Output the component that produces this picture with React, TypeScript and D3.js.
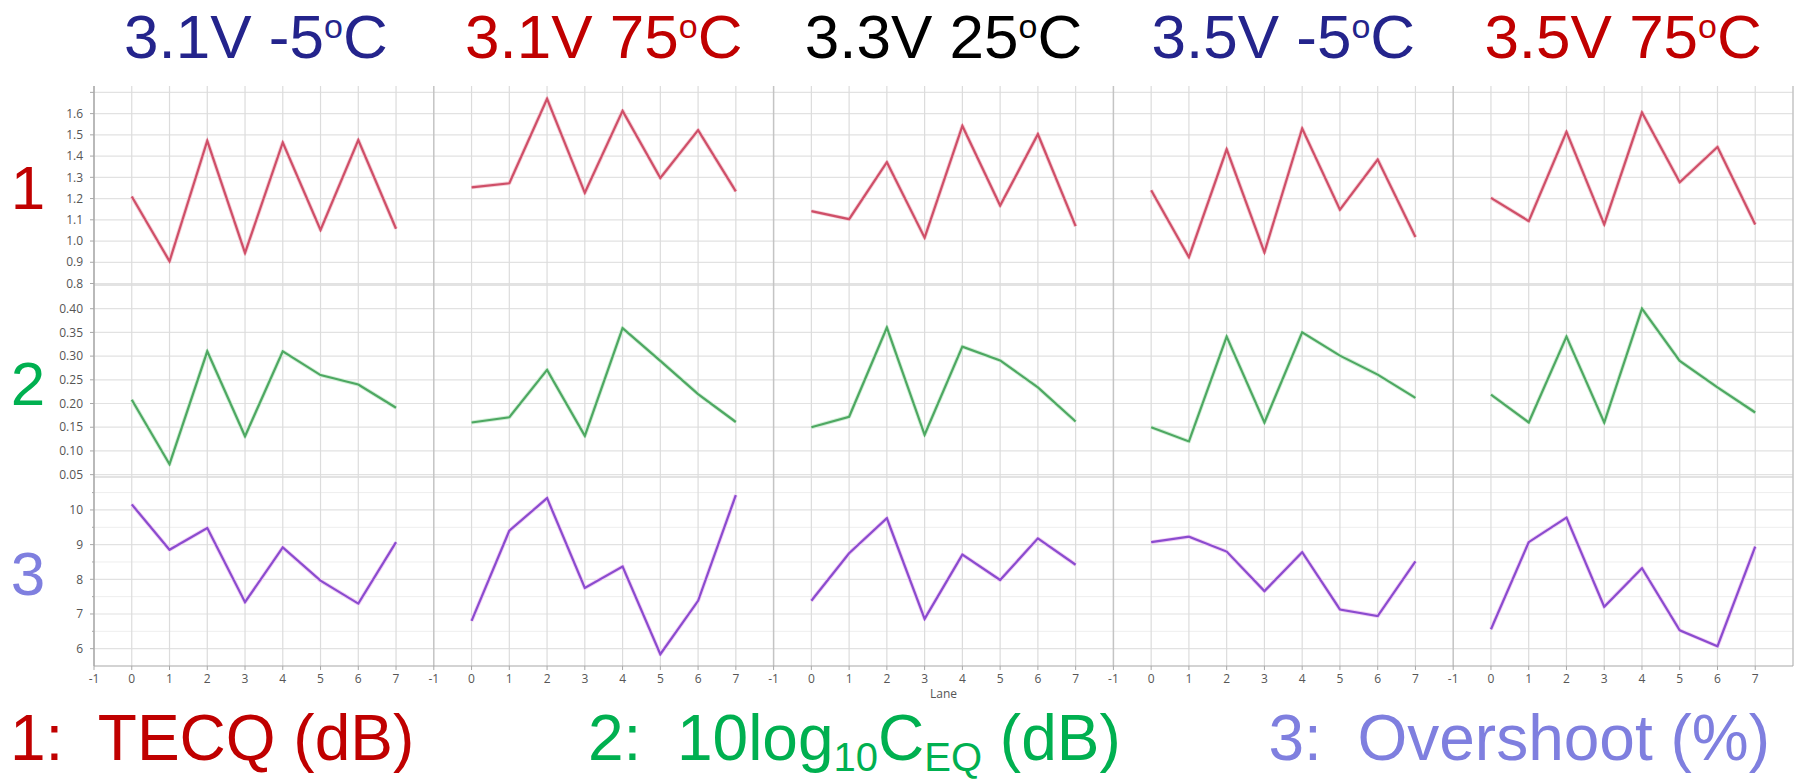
import React from "react";
import * as d3 from "d3";

// conditions (one panel each), lanes 0..7
const conditions = ["3.1V -5", "3.1V 75", "3.3V 25", "3.5V -5", "3.5V 75"];
const conditionColors = ["#24248c", "#c00000", "#000000", "#24248c", "#c00000"];
const lanes = [0, 1, 2, 3, 4, 5, 6, 7];
const laneTicks = [-1, 0, 1, 2, 3, 4, 5, 6, 7];

// 1: TECQ (dB)
const tecq = [
  [1.21, 0.905, 1.472, 0.944, 1.464, 1.052, 1.475, 1.058],
  [1.253, 1.272, 1.67, 1.227, 1.613, 1.297, 1.522, 1.234],
  [1.141, 1.103, 1.371, 1.016, 1.542, 1.167, 1.503, 1.07],
  [1.239, 0.924, 1.432, 0.947, 1.53, 1.148, 1.384, 1.019],
  [1.203, 1.094, 1.514, 1.078, 1.605, 1.277, 1.443, 1.078],
];
// 2: 10log10 CEQ (dB)
const ceq = [
  [0.208, 0.072, 0.31, 0.131, 0.31, 0.26, 0.24, 0.191],
  [0.16, 0.171, 0.271, 0.132, 0.359, 0.29, 0.22, 0.161],
  [0.15, 0.172, 0.36, 0.134, 0.32, 0.291, 0.234, 0.162],
  [0.15, 0.12, 0.341, 0.16, 0.35, 0.301, 0.261, 0.212],
  [0.219, 0.16, 0.341, 0.16, 0.4, 0.29, 0.234, 0.181],
];
// 3: Overshoot (%)
const overshoot = [
  [10.16, 8.85, 9.48, 7.34, 8.92, 7.96, 7.3, 9.07],
  [6.8, 9.4, 10.34, 7.75, 8.37, 5.84, 7.38, 10.43],
  [7.38, 8.75, 9.76, 6.86, 8.71, 7.98, 9.18, 8.42],
  [9.07, 9.23, 8.8, 7.66, 8.78, 7.13, 6.94, 8.52],
  [6.56, 9.07, 9.78, 7.21, 8.32, 6.53, 6.07, 8.94],
];

const tecqTicks = [0.8, 0.9, 1.0, 1.1, 1.2, 1.3, 1.4, 1.5, 1.6];
const tecqGrid = [...tecqTicks, 1.7];
const ceqTicks = [0.05, 0.1, 0.15, 0.2, 0.25, 0.3, 0.35, 0.4];
const overshootTicks = [6, 7, 8, 9, 10];
const overshootMinor = [6.5, 7.5, 8.5, 9.5, 10.5];

const W = 1802;
const H = 782;
const left = 94;
const right = 1793;
const top = 86;
const bottom = 666;
const panelW = (right - left) / conditions.length;

const tickFont = "'Open Sans', 'Noto Sans', sans-serif";
const bigFont = "'Liberation Sans', Arial, sans-serif";

const rows = [
  {
    key: "tecq",
    values: tecq,
    y: d3.scaleLinear().domain([0.793, 1.73]).range([285, top]),
    ticks: tecqTicks,
    grid: tecqGrid,
    minor: [] as number[],
    fmt: d3.format(".1f"),
    color: "#cf4f68",
    halo: "#f5d0d8",
    label: "1",
    labelColor: "#c00000",
  },
  {
    key: "ceq",
    values: ceq,
    y: d3.scaleLinear().domain([0.045, 0.45]).range([477, 285]),
    ticks: ceqTicks,
    grid: ceqTicks,
    minor: [] as number[],
    fmt: d3.format(".2f"),
    color: "#4ea862",
    halo: "#d3efd8",
    label: "2",
    labelColor: "#00b050",
  },
  {
    key: "overshoot",
    values: overshoot,
    y: d3.scaleLinear().domain([5.5, 10.95]).range([bottom, 477]),
    ticks: overshootTicks,
    grid: overshootTicks,
    minor: overshootMinor,
    fmt: d3.format("d"),
    color: "#8a4ccf",
    halo: "#f3cff5",
    label: "3",
    labelColor: "#7f7fdf",
  },
];

const App: React.FC = () => {
  const xScales = conditions.map((_, i) =>
    d3
      .scaleLinear()
      .domain([-1, 8])
      .range([left + i * panelW, left + (i + 1) * panelW])
  );

  return (
    <div style={{ position: "absolute", left: 0, top: 0 }}>
      <svg width={W} height={H} style={{ display: "block", background: "#fff" }}>
        {/* horizontal grid */}
        {rows.map((r) => (
          <g key={r.key + "-hgrid"}>
            {r.minor.map((v) => (
              <line key={"m" + v} x1={left} x2={right} y1={r.y(v)} y2={r.y(v)} stroke="#eeeeee" strokeWidth={1} />
            ))}
            {r.grid.map((v) => (
              <line key={v} x1={left} x2={right} y1={r.y(v)} y2={r.y(v)} stroke="#e2e2e2" strokeWidth={1.2} />
            ))}
          </g>
        ))}
        {/* row separators */}
        {[285, 477].map((y) => (
          <line key={y} x1={left} x2={right} y1={y} y2={y} stroke="#dadada" strokeWidth={1.3} />
        ))}

        {/* vertical grid */}
        {xScales.map((x, i) => (
          <g key={"vgrid" + i}>
            {laneTicks.map((t) => (
              <line
                key={t}
                x1={x(t)}
                x2={x(t)}
                y1={top}
                y2={bottom}
                stroke={t === -1 ? "#c4c4c4" : "#dcdcdc"}
                strokeWidth={t === -1 ? 1.5 : 1.2}
              />
            ))}
          </g>
        ))}
        <line x1={right} x2={right} y1={top} y2={bottom} stroke="#c4c4c4" strokeWidth={1.5} />

        {/* axes */}
        <line x1={left} x2={left} y1={top} y2={bottom} stroke="#a8a8a8" strokeWidth={1.2} />
        <line x1={left} x2={right} y1={bottom} y2={bottom} stroke="#a8a8a8" strokeWidth={1.2} />

        {/* y tick labels */}
        {rows.map((r) => (
          <g key={r.key + "-yaxis"}>
            {r.grid.map((v) => (
              <line key={"t" + v} x1={left - 4} x2={left} y1={r.y(v)} y2={r.y(v)} stroke="#a8a8a8" />
            ))}
            {r.minor.map((v) => (
              <line key={"mt" + v} x1={left - 2} x2={left} y1={r.y(v)} y2={r.y(v)} stroke="#a8a8a8" />
            ))}
            {r.ticks.map((v) => (
              <text
                key={v}
                x={left - 11}
                y={r.y(v)}
                dy="0.35em"
                textAnchor="end"
                fontFamily={tickFont}
                fontSize={12}
                fill="#555"
              >
                {r.fmt(v)}
              </text>
            ))}
          </g>
        ))}

        {/* x tick labels */}
        {xScales.map((x, i) => (
          <g key={"xaxis" + i}>
            {laneTicks.map((t) => (
              <g key={t}>
                <line x1={x(t)} x2={x(t)} y1={bottom} y2={bottom + 4} stroke="#a8a8a8" />
                <text
                  x={x(t)}
                  y={679}
                  dy="0.35em"
                  textAnchor="middle"
                  fontFamily={tickFont}
                  fontSize={12}
                  fill="#555"
                >
                  {t}
                </text>
              </g>
            ))}
          </g>
        ))}
        <text x={(left + right) / 2} y={694} dy="0.35em" textAnchor="middle" fontFamily={tickFont} fontSize={12} fill="#555">
          Lane
        </text>

        {/* series lines */}
        {rows.map((r) =>
          xScales.map((x, i) => {
            const line = d3
              .line<number>()
              .x((_, j) => x(lanes[j]))
              .y((d) => r.y(d));
            const d = line(r.values[i]) || "";
            return (
              <g key={r.key + i}>
                <path d={d} fill="none" stroke={r.halo} strokeWidth={4} strokeLinejoin="round" />
                <path d={d} fill="none" stroke={r.color} strokeWidth={2.2} strokeLinejoin="miter" />
              </g>
            );
          })
        )}

        {/* condition titles */}
        {xScales.map((x, i) => (
          <text
            key={"title" + i}
            x={x(3.5) - (i === 0 ? 8 : 0)}
            y={58}
            textAnchor="middle"
            fontFamily={bigFont}
            fontSize={62}
            fill={conditionColors[i]}
          >
            {conditions[i]}
            <tspan fontSize={34} dy={-20}>o</tspan>
            <tspan dy={20}>C</tspan>
          </text>
        ))}

        {/* row labels */}
        {rows.map((r) => (
          <text
            key={r.key + "-label"}
            x={28}
            y={(r.y.range()[0] + r.y.range()[1]) / 2 + 2}
            dy="0.35em"
            textAnchor="middle"
            fontFamily={bigFont}
            fontSize={62}
            fill={r.labelColor}
          >
            {r.label}
          </text>
        ))}

        {/* legend */}
        <text x={10} y={760} fontFamily={bigFont} fontSize={64} fill="#c00000" style={{ whiteSpace: "pre" }}>
          {"1:  TECQ (dB)"}
        </text>
        <text x={588} y={760} fontFamily={bigFont} fontSize={64} fill="#00b050" style={{ whiteSpace: "pre" }}>
          {"2:  10log"}
          <tspan fontSize={40} dy={11}>10</tspan>
          <tspan dy={-11}>C</tspan>
          <tspan fontSize={40} dy={11}>EQ</tspan>
          <tspan dy={-11}>{" (dB)"}</tspan>
        </text>
        <text x={1770} y={760} textAnchor="end" fontFamily={bigFont} fontSize={64} fill="#7f7fdf" style={{ whiteSpace: "pre" }}>
          {"3:  Overshoot (%)"}
        </text>
      </svg>
    </div>
  );
};

export default App;
